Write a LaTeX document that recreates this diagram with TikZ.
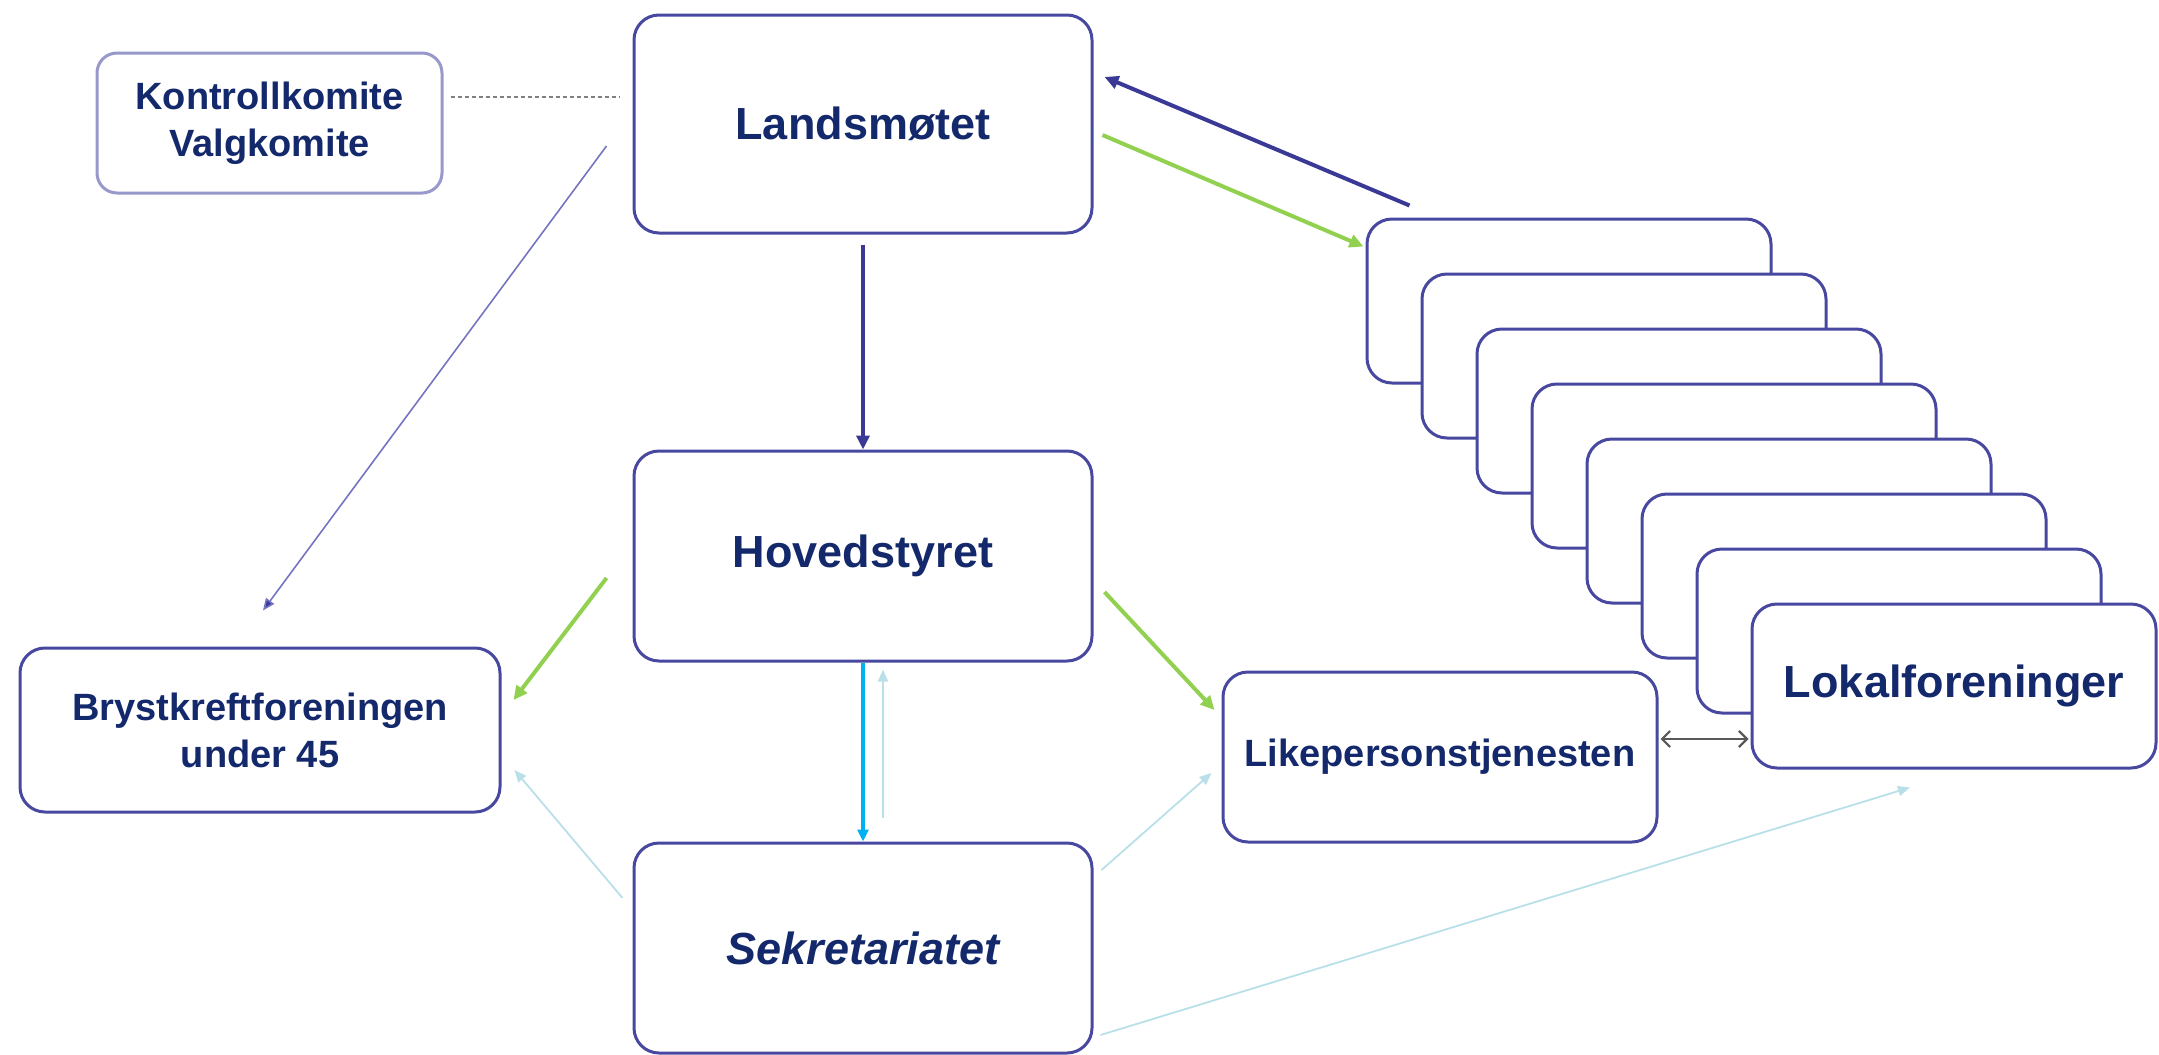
\documentclass[tikz,border=0pt]{standalone}
\usepackage{fontspec}
\setmainfont{Liberation Sans}
\usepackage{xcolor}
\usepackage{tikz}
\usetikzlibrary{arrows.meta, calc, positioning}
\definecolor{boxline}{HTML}{4848A0}
\definecolor{lightline}{HTML}{9898CB}
\definecolor{navy}{HTML}{14296B}
\definecolor{darkblue}{HTML}{3A3A96}
\definecolor{midblue}{HTML}{7474C2}
\definecolor{leafgreen}{HTML}{92D050}
\definecolor{skyblue}{HTML}{00B0F0}
\definecolor{palecyan}{HTML}{B9E0E8}

\begin{document}
\begin{tikzpicture}[x=0.5pt, y=-0.5pt,
  box/.style={draw=boxline, line width=1.5pt, rounded corners=12.5pt, fill=white, text=navy, align=center, font=\bfseries\fontsize{22.5}{27}\selectfont},
  smallbox/.style={box, font=\bfseries\fontsize{19}{23.5}\selectfont},
  stackbox/.style={box, minimum width=202pt, minimum height=82pt},
  darkarrow/.style={draw=darkblue, line width=2pt, -{Triangle[length=7pt,width=6.5pt]}},
  greenarrow/.style={draw=leafgreen, line width=2pt, -{Triangle[length=7pt,width=6.5pt]}},
  cyanarrow/.style={draw=skyblue, line width=2pt, -{Triangle[length=6pt,width=5.5pt]}},
  thinarrow/.style={draw=midblue, line width=0.8pt, -{Triangle[length=6pt,width=5pt,fill=darkblue]}},
  palearrow/.style={draw=palecyan, line width=0.9pt, -{Triangle[length=6pt,width=5pt]}}]

\useasboundingbox (0,0) rectangle (2159,1055);

\node [smallbox, draw=lightline, minimum width=172.5pt, minimum height=70pt, rounded corners=10pt](kontroll) at (269.5,123) {Kontrollkomite\\ Valgkomite};
\node [box, minimum width=229pt, minimum height=109pt](lands) at (863,124) {Landsmøtet};
\node [box, minimum width=229pt, minimum height=105pt](hov) at (863,556) {Hovedstyret};
\node [box, minimum width=229pt, minimum height=105pt](sek) at (863,948) {\itshape Sekretariatet};
\node [smallbox, minimum width=240pt, minimum height=82pt](bryst) at (260,730) {Brystkreftforeningen\\ under 45};
\node [smallbox, minimum width=217pt, minimum height=85pt](like) at (1440,757) {Likepersonstjenesten};

\foreach \i in {0,...,6}
  \node [stackbox](lokal\i) at ({1569+55*\i},{301+55*\i}) {};
\node [stackbox](lokal) at (1954,686) {Lokalforeninger};

\draw [draw=gray, line width=0.8pt, dash pattern=on 2pt off 1.5pt] ($(kontroll.east)+(7,-26)$) -- ($(lands.west)+(-13,-27)$);
\draw [thinarrow] ($(lands.west)+(-26,22)$) -- ($(bryst.north)+(3,-36)$);
\draw [darkarrow, shorten <=5pt] (lands.south) -- (hov.north);
\draw [darkarrow] ($(lokal0.north west)+(44,-12)$) -- ($(lands.east)+(11,-47)$);
\draw [greenarrow] ($(lands.east)+(9,11)$) -- ($(lokal0.north west)+(-2,29)$);
\draw [greenarrow] ($(hov.west)+(-26,22)$) -- ($(bryst.east)+(12,-30)$);
\draw [greenarrow] ($(hov.east)+(11,36)$) -- ($(like.west)+(-7,-47)$);
\draw [cyanarrow] (hov.south) -- (sek.north);
\draw [palearrow] ($(sek.north)+(20,-24)$) -- ($(hov.south)+(20,7)$);
\draw [palearrow] ($(sek.west)+(-10,-50)$) -- ($(bryst.east)+(13,40)$);
\draw [palearrow] ($(sek.east)+(8,-78)$) -- ($(like.west)+(-10,16)$);
\draw [palearrow] ($(sek.east)+(7,87)$) -- ($(lokal.south)+(-44,18)$);
\draw [draw=black!65, line width=1.1pt, {Straight Barb[length=4pt,width=8pt]}-{Straight Barb[length=4pt,width=8pt]}] ($(like.east)+(2,-18)$) -- ($(lokal.west |- like.east)+(-2,-18)$);
\end{tikzpicture}
\end{document}
